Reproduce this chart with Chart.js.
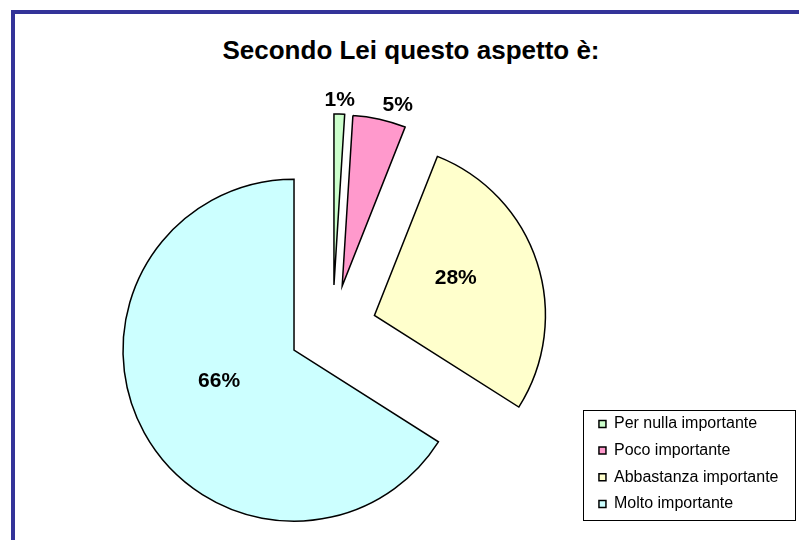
<!DOCTYPE html>
<html>
<head>
<meta charset="utf-8">
<script src="https://cdn.jsdelivr.net/npm/chart.js"></script>
<style>
  html, body { margin: 0; padding: 0; background: #fff; overflow: hidden; }
  #wrap { position: relative; width: 799px; height: 540px; overflow: hidden; }
  #frame { position: absolute; left: 11px; top: 10px; width: 900px; height: 700px; border: 4px solid #333399; }
  #title { position: absolute; left: 211px; top: 35px; width: 400px; text-align: center; white-space: nowrap;
           font: bold 26px/30px "Liberation Sans", Arial, sans-serif; color: #000; }
  #chart { position: absolute; left: 0; top: 0; }
</style>
</head>
<body>
<div id="wrap">
  <div id="frame"></div>
  <div id="title">Secondo Lei questo aspetto è:</div>
  <canvas id="chart" width="799" height="540"></canvas>
</div>
<script>
const labels = ['Per nulla importante', 'Poco importante', 'Abbastanza importante', 'Molto importante']
const values = [1, 5, 28, 66]
const colors = ['#CCFFCC', '#FF99CC', '#FFFFCC', '#CCFFFF']

Chart.defaults.font.family = '"Liberation Sans", Arial, sans-serif'
Chart.defaults.color = '#000'

// pull every slice out from the centre along its middle angle
const explode = {
  id: 'explode',
  afterDatasetUpdate(chart, args, opts) {
    args.meta.data.forEach((arc) => {
      const mid = (arc.startAngle + arc.endAngle) / 2
      arc.x += Math.cos(mid) * opts.distance
      arc.y += Math.sin(mid) * opts.distance
    })
  }
}

// percent labels: inside the big slices, outside the thin ones
const sliceLabels = {
  id: 'sliceLabels',
  afterDatasetsDraw(chart, args, opts) {
    const ctx = chart.ctx
    const meta = chart.getDatasetMeta(0)
    const data = chart.data.datasets[0].data
    ctx.save()
    ctx.font = opts.font
    ctx.fillStyle = '#000'
    meta.data.forEach((arc, i) => {
      const mid = (arc.startAngle + arc.endAngle) / 2
      const dx = Math.cos(mid)
      const dy = Math.sin(mid)
      let r
      if (data[i] < 10) {
        r = arc.outerRadius + 14
        ctx.textAlign = dx > 0.1 ? 'left' : dx < -0.1 ? 'right' : 'center'
        ctx.textBaseline = 'middle'
      } else {
        r = arc.outerRadius * 0.5
        ctx.textAlign = 'center'
        ctx.textBaseline = 'bottom'
      }
      ctx.fillText(data[i] + '%', arc.x + dx * r, arc.y + dy * r)
    })
    ctx.restore()
  }
}

// thin frame round the legend items
const legendFrame = {
  id: 'legendFrame',
  afterDraw(chart) {
    const boxes = chart.legend.legendHitBoxes
    if (!boxes || !boxes.length) return
    const left = Math.min(...boxes.map(b => b.left)) - 16
    const right = Math.max(...boxes.map(b => b.left + b.width)) + 16
    const top = boxes[0].top - 6
    const last = boxes[boxes.length - 1]
    const bottom = last.top + last.height + 8
    const ctx = chart.ctx
    ctx.save()
    ctx.strokeStyle = '#000'
    ctx.lineWidth = 1
    ctx.strokeRect(Math.round(left) + 0.5, Math.round(top) + 0.5, Math.round(right - left), Math.round(bottom - top))
    ctx.restore()
  }
}

const ctx = document.getElementById('chart').getContext('2d')
const chart = new Chart(ctx, {
  type: 'pie',
  data: {
    labels: labels,
    datasets: [{
      data: values,
      backgroundColor: colors,
      borderColor: '#000',
      borderWidth: 1.5,
      borderJoinStyle: 'miter',
      radius: 171
    }]
  },
  options: {
    responsive: false,
    maintainAspectRatio: false,
    animation: false,
    devicePixelRatio: 1,
    events: [],
    layout: {
      padding: { left: 76.9, right: 10.5, top: 135.3, bottom: 17.3 }
    },
    plugins: {
      explode: { distance: 44 },
      sliceLabels: { font: 'bold 21px "Liberation Sans", Arial, sans-serif' },
      title: { display: false },
      tooltip: { enabled: false },
      legend: {
        position: 'right',
        align: 'end',
        labels: {
          boxWidth: 7,
          boxHeight: 7,
          padding: 10.7,
          textAlign: 'left',
          font: { size: 16 }
        }
      }
    }
  },
  plugins: [explode, sliceLabels, legendFrame]
})
</script>
</body>
</html>
